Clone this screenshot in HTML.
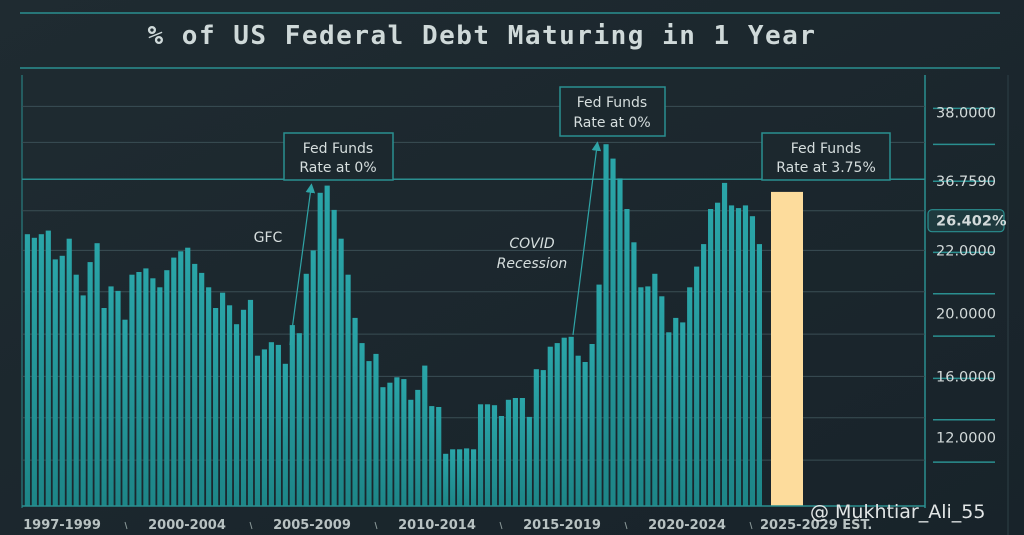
<!DOCTYPE html>
<html><head><meta charset="utf-8"><style>
html,body{margin:0;padding:0;background:#1b262c;}
svg{display:block;font-family:"DejaVu Sans","Liberation Sans",sans-serif;}
</style></head><body>
<svg id="c" width="1024" height="535" viewBox="0 0 1024 535">
<defs>
<linearGradient id="bg" x1="0" y1="0" x2="1" y2="1"><stop offset="0" stop-color="#1f2b31"/><stop offset="1" stop-color="#18232a"/></linearGradient>
<linearGradient id="bar" x1="0" y1="0" x2="0" y2="1"><stop offset="0" stop-color="#2aa5a8"/><stop offset="1" stop-color="#1d8587"/></linearGradient>
<marker id="ah" markerWidth="8" markerHeight="8" refX="4" refY="4" orient="auto"><path d="M0,0 L8,4 L0,8 z" fill="#2fa4a6"/></marker>
</defs>
<rect width="1024" height="535" fill="url(#bg)"/>
<line x1="20" y1="13" x2="1000" y2="13" stroke="#2a8f90" stroke-width="1.5"/>
<line x1="20" y1="68" x2="1000" y2="68" stroke="#2a8f90" stroke-width="1.5"/>
<text x="482" y="44" text-anchor="middle" font-family="DejaVu Sans Mono, Liberation Mono, monospace" font-weight="bold" font-size="26" letter-spacing="1.5" fill="#cfd9d9">% of US Federal Debt Maturing in 1 Year</text>
<line x1="22" y1="75" x2="22" y2="508" stroke="#2a8f90" stroke-width="1"/>
<line x1="925" y1="75" x2="925" y2="508" stroke="#2a8f90" stroke-width="1.5"/>
<line x1="1008" y1="75" x2="1008" y2="535" stroke="#2e4046" stroke-width="1"/>
<g id="grid"></g>
<g id="bars"></g>
<g id="ylabels"></g>
<line x1="22" y1="506" x2="925" y2="506" stroke="#2a8f90" stroke-width="1.5"/>
<g id="xlabels"></g>
<g>
<rect x="284" y="133" width="109" height="47" fill="#1c282e" stroke="#2a8f90" stroke-width="1.5"/>
<text x="338" y="153" text-anchor="middle" font-size="14" fill="#d6dede">Fed Funds</text>
<text x="338" y="172" text-anchor="middle" font-size="14" fill="#d6dede">Rate at 0%</text>
</g>
<g>
<rect x="560" y="87" width="105" height="49" fill="#1c282e" stroke="#2a8f90" stroke-width="1.5"/>
<text x="612" y="107" text-anchor="middle" font-size="14" fill="#d6dede">Fed Funds</text>
<text x="612" y="127" text-anchor="middle" font-size="14" fill="#d6dede">Rate at 0%</text>
</g>
<g>
<rect x="762" y="133" width="128" height="47" fill="#1c282e" stroke="#2a8f90" stroke-width="1.5"/>
<text x="826" y="153" text-anchor="middle" font-size="14" fill="#d6dede">Fed Funds</text>
<text x="826" y="172" text-anchor="middle" font-size="14" fill="#d6dede">Rate at 3.75%</text>
</g>
<line x1="290" y1="345" x2="311" y2="188" stroke="#2fa4a6" stroke-width="1.2" marker-end="url(#ah)"/>
<line x1="573" y1="335" x2="597" y2="146" stroke="#2fa4a6" stroke-width="1.2" marker-end="url(#ah)"/>
<text x="268" y="242" text-anchor="middle" font-size="14" fill="#d6dede">GFC</text>
<text x="532" y="248" text-anchor="middle" font-size="14" font-style="italic" fill="#d6dede">COVID</text>
<text x="532" y="268" text-anchor="middle" font-size="14" font-style="italic" fill="#d6dede">Recession</text>
<text x="810" y="518" font-size="19" fill="#e2e6e6">@ Mukhtiar_Ali_55</text>
</svg>
<script>
const values = [30.2,29.8,30.2,30.6,27.4,27.8,29.7,25.7,23.4,27.1,29.2,22.0,24.4,23.9,20.7,25.7,26.0,26.4,25.3,24.3,26.2,27.6,28.3,28.7,26.9,25.9,24.3,22.0,23.7,22.3,20.2,21.8,22.9,16.7,17.4,18.2,17.9,15.8,20.1,19.2,25.8,28.4,34.8,35.6,32.9,29.7,25.7,20.9,18.1,16.1,16.9,13.2,
13.7,14.3,14.1,11.8,12.9,15.6,11.1,11.0,5.8,6.3,6.3,6.4,6.3,11.3,11.3,11.2,10.0,11.8,12.0,12.0,9.9,15.2,15.1,17.7,18.1,18.7,18.8,16.7,16.0,18.0,24.6,40.2,38.6,36.4,33.0,29.3,24.3,24.4,25.8,23.3,19.3,20.9,20.4,24.3,26.6,29.1,33.0,33.7,35.9,33.4,33.1,33.4,32.2,29.1];
const projection = [34.9];
const periods = ["1997-1999","2000-2004","2005-2009","2010-2014","2015-2019","2020-2024","2025-2029 EST."];
const tickValues = [43.7,36.1,31.7,28.4,21.4,14.4,7.6];
const tickLabels = ["38.0000","36.7590","26.402%","22.0000","20.0000","16.0000","12.0000"];
const gridValues = [44.4,40.4,36.3,32.8,28.4,23.8,19.1,14.4,9.8,5.1];
const NS="http://www.w3.org/2000/svg";
const base=506, ppu=9, x0=24, x1=763;
const y=v=>base-v*ppu;
const step=(x1-x0)/values.length;
const x=i=>x0+i*step;
function mk(t,a,p){const e=document.createElementNS(NS,t);for(const k in a)e.setAttribute(k,a[k]);p.appendChild(e);return e;}
const grid=document.getElementById('grid');
gridValues.forEach((g,i)=>{
  const l=mk('line',{x1:22,x2:925,y1:y(g),y2:y(g),stroke:i==2?'#2a8f90':'#3a4e54','stroke-width':i==2?1.5:1},grid);
  
  
  const t=mk('line',{x1:933,x2:995,y1:y(g)+2,y2:y(g)+2,stroke:'#2a8f90','stroke-width':1.5},grid);
  
  
});
const bars=document.getElementById('bars');
values.forEach((v,i)=>{
  const r=mk('rect',{x:x(i)+0.8,y:y(v),width:step-1.8,height:base-y(v),fill:'url(#bar)'},bars);
  
  
});
const pr=mk('rect',{x:771,y:y(projection[0]),width:32,height:base-y(projection[0]),fill:'#fddc9c'},bars);


const yl=document.getElementById('ylabels');
tickValues.forEach((v,i)=>{
  if(tickLabels[i].endsWith('%')){
    const b=mk('rect',{x:928,y:y(v)-11,width:76,height:22,rx:4,fill:'#1e3a3e',stroke:'#2a8f90','stroke-width':1.2},yl);
    
    
  }
  const t=mk('text',{x:936,y:y(v)+5,'font-size':14.5,fill:'#d3dada','font-weight':tickLabels[i].endsWith('%')?'bold':'normal'},yl);
  t.textContent=tickLabels[i];
  
  
});
const xl=document.getElementById('xlabels');
periods.forEach((p,i)=>{
  const cx=i<periods.length-1?62+125*i:760;
  const t=mk('text',{x:cx,y:529,'text-anchor':i<periods.length-1?'middle':'start','font-size':13,'font-weight':'bold',fill:'#b8c2c2'},xl);
  t.textContent=p;
  
  
  if(i>0){const s=mk('line',{x1:125*i,x2:125*i+2,y1:522,y2:529,stroke:'#8a9898'},xl);
  
  }
});
</script>
</body></html>
